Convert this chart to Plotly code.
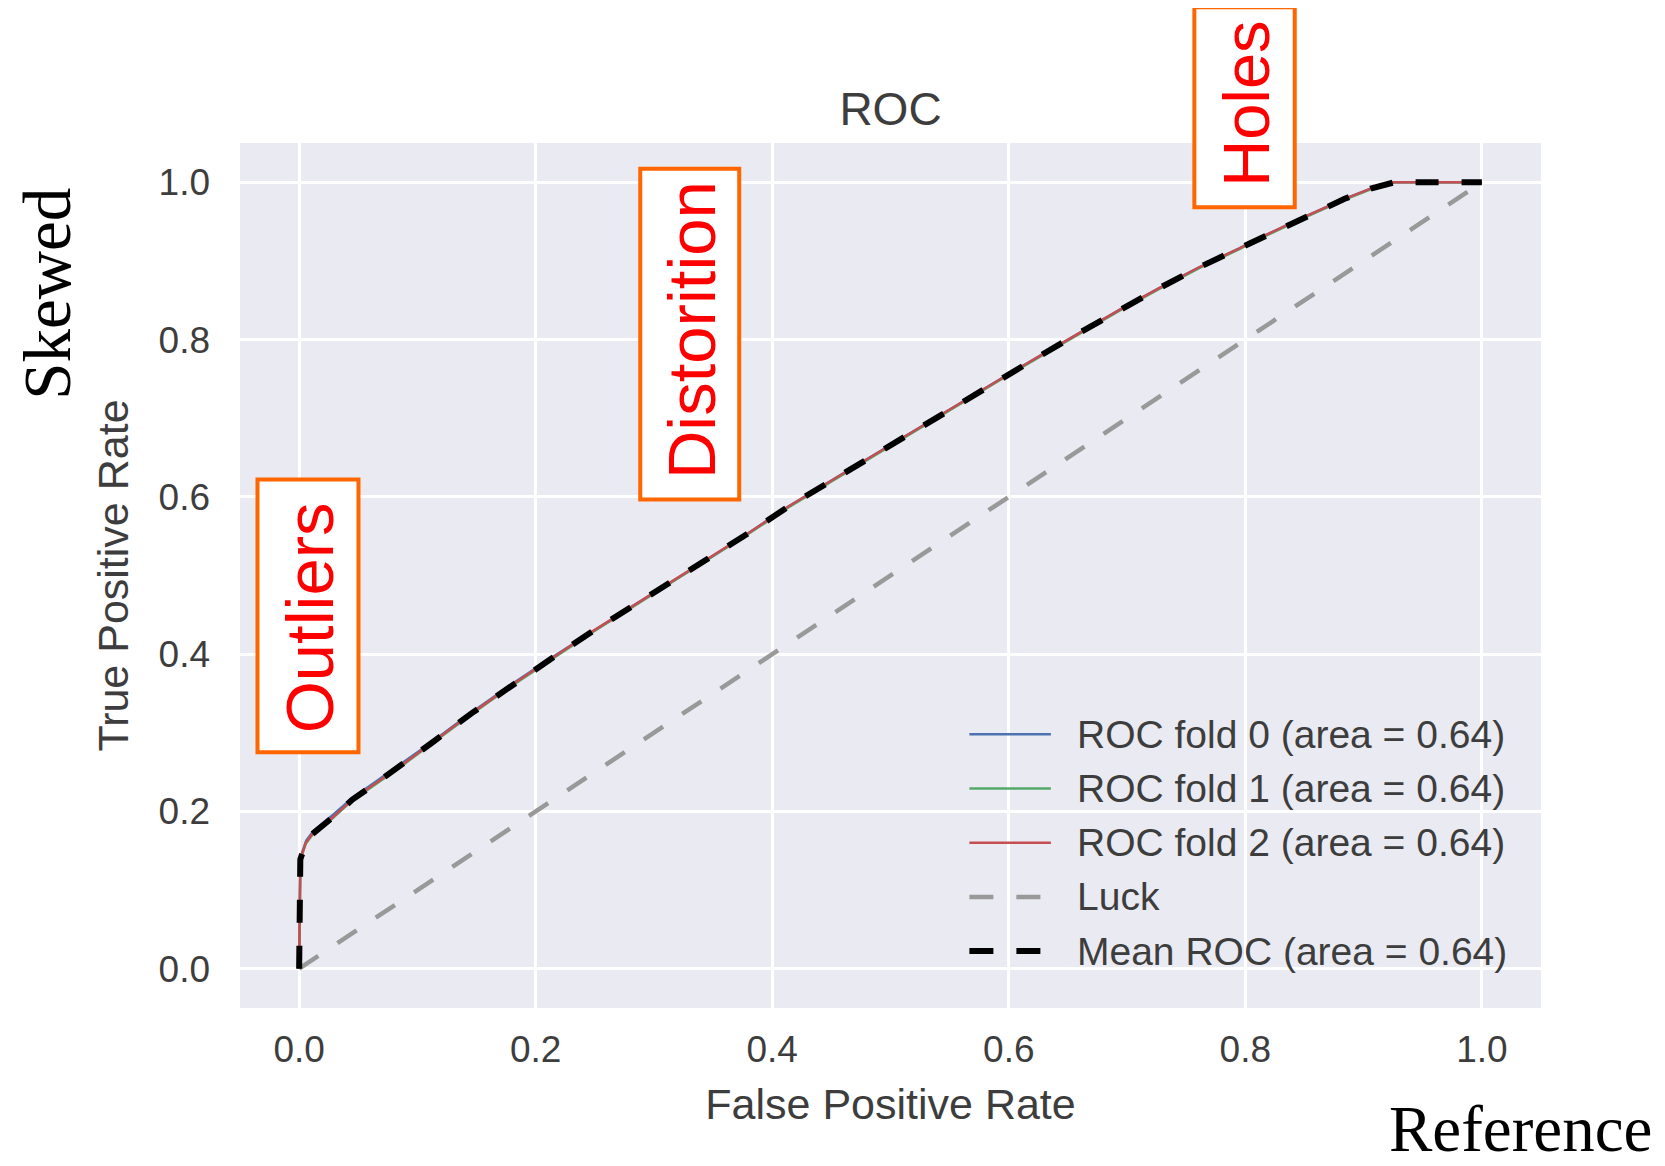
import plotly.graph_objects as go

# ---------------- data ----------------
mean_fpr = [0.0, 0.001, 0.0056, 0.011, 0.028, 0.045, 0.065, 0.085, 0.112, 0.146,
            0.180, 0.214, 0.248, 0.282, 0.316, 0.347, 0.380, 0.414, 0.457, 0.491,
            0.525, 0.558, 0.592, 0.626, 0.660, 0.694, 0.728, 0.761, 0.795, 0.813,
            0.850, 0.884, 0.906, 0.926, 0.940, 1.0]
mean_tpr = [0.0, 0.139, 0.160, 0.171, 0.192, 0.215, 0.236, 0.257, 0.287, 0.325,
            0.361, 0.395, 0.429, 0.461, 0.493, 0.522, 0.554, 0.588, 0.627, 0.658,
            0.689, 0.719, 0.749, 0.779, 0.809, 0.838, 0.866, 0.892, 0.916, 0.930,
            0.956, 0.979, 0.992, 1.0, 1.0, 1.0]

fold0_fpr = [0.0, 0.001, 0.006, 0.012, 0.028, 0.045, 0.065, 0.085, 0.112, 0.146,
             0.180, 0.214, 0.248, 0.282, 0.316, 0.347, 0.380, 0.414, 0.457, 0.491,
             0.525, 0.558, 0.592, 0.626, 0.660, 0.694, 0.728, 0.761, 0.795, 0.813,
             0.850, 0.884, 0.906, 0.926, 0.940, 1.0]
fold0_tpr = [0.0, 0.141, 0.163, 0.175, 0.195, 0.217, 0.238, 0.259, 0.288, 0.326,
             0.362, 0.396, 0.429, 0.461, 0.493, 0.522, 0.554, 0.588, 0.627, 0.658,
             0.689, 0.719, 0.749, 0.779, 0.809, 0.838, 0.866, 0.892, 0.916, 0.930,
             0.956, 0.979, 0.992, 1.0, 1.0, 1.0]

fold1_fpr = [0.0, 0.001, 0.0056, 0.011, 0.028, 0.045, 0.065, 0.085, 0.112, 0.146,
             0.180, 0.214, 0.248, 0.282, 0.316, 0.347, 0.380, 0.414, 0.457, 0.491,
             0.525, 0.558, 0.592, 0.626, 0.660, 0.694, 0.728, 0.761, 0.795, 0.813,
             0.850, 0.884, 0.906, 0.926, 0.940, 1.0]
fold1_tpr = [0.0, 0.138, 0.159, 0.170, 0.191, 0.214, 0.235, 0.256, 0.286, 0.324,
             0.360, 0.394, 0.428, 0.460, 0.492, 0.521, 0.553, 0.587, 0.626, 0.657,
             0.688, 0.718, 0.748, 0.778, 0.808, 0.837, 0.865, 0.891, 0.915, 0.929,
             0.955, 0.978, 0.991, 1.0, 1.0, 1.0]

fold2_fpr = [0.0, 0.001, 0.0056, 0.011, 0.028, 0.045, 0.065, 0.085, 0.112, 0.146,
             0.180, 0.214, 0.248, 0.282, 0.316, 0.347, 0.380, 0.414, 0.457, 0.491,
             0.525, 0.558, 0.592, 0.626, 0.660, 0.694, 0.728, 0.761, 0.795, 0.813,
             0.850, 0.884, 0.906, 0.926, 0.940, 1.0]
fold2_tpr = [0.0, 0.139, 0.160, 0.171, 0.192, 0.215, 0.236, 0.257, 0.287, 0.325,
             0.361, 0.395, 0.429, 0.461, 0.493, 0.522, 0.554, 0.588, 0.627, 0.658,
             0.689, 0.719, 0.749, 0.779, 0.809, 0.838, 0.866, 0.892, 0.916, 0.930,
             0.956, 0.979, 0.992, 1.0, 1.0, 1.0]

luck_x = [0.0, 1.0]
luck_y = [0.0, 1.0]

fold_aucs = [0.64, 0.64, 0.64]
mean_auc = 0.64

tick_vals = [0.0, 0.2, 0.4, 0.6, 0.8, 1.0]
tick_text = ["0.0", "0.2", "0.4", "0.6", "0.8", "1.0"]

callouts = ["Outliers", "Distorition", "Holes"]

# ---------------- layout geometry (page pixels; the page body has an 8px margin) ----------------
OFF = 8
W, H = 1665 - 2 * OFF, 1166 - OFF
PL, PR, PT, PB = 239.5, 1540.7, 142.7, 1007.7     # plot area in page px
L, R, T, B = PL - OFF, PR - OFF, PT - OFF, PB - OFF
PW, PH = R - L, B - T

def px_x(X):            # page px -> paper x
    return (X - OFF - L) / PW

def px_y(Y):            # page px -> paper y
    return (B - (Y - OFF)) / PH

SANS = "Liberation Sans, Arial, Helvetica, sans-serif"
SERIF = "Liberation Serif, Times New Roman, serif"
TXT = "#3d3d3d"
BLUE, GREEN, RED = "#4C72B0", "#55A868", "#C44E52"
LUCK = "#999999"
ORANGE = "#FF6600"

fig = go.Figure()

fold_sets = [(fold0_fpr, fold0_tpr, BLUE), (fold1_fpr, fold1_tpr, GREEN), (fold2_fpr, fold2_tpr, RED)]
for i, (fx, fy, col) in enumerate(fold_sets):
    fig.add_trace(go.Scatter(x=fx, y=fy, mode="lines", line=dict(color=col, width=2.5),
                             name=f"ROC fold {i} (area = {fold_aucs[i]:.2f})", showlegend=False,
                             hoverinfo="skip"))

fig.add_trace(go.Scatter(x=luck_x, y=luck_y, mode="lines",
                         line=dict(color=LUCK, width=4.5, dash="23px,23px"),
                         name="Luck", showlegend=False, hoverinfo="skip"))
fig.add_trace(go.Scatter(x=mean_fpr, y=mean_tpr, mode="lines",
                         line=dict(color="black", width=6, dash="23px,23px"),
                         name=f"Mean ROC (area = {mean_auc:.2f})", showlegend=False,
                         hoverinfo="skip"))

# ---------------- legend drawn matplotlib-style (frameless, long line keys) ----------------
legend_items = [
    (f"ROC fold 0 (area = {fold_aucs[0]:.2f})", BLUE, 2.5, "solid"),
    (f"ROC fold 1 (area = {fold_aucs[1]:.2f})", GREEN, 2.5, "solid"),
    (f"ROC fold 2 (area = {fold_aucs[2]:.2f})", RED, 2.5, "solid"),
    ("Luck", LUCK, 4.5, "24px,23px"),
    (f"Mean ROC (area = {mean_auc:.2f})", "black", 6, "24px,23px"),
]
leg_y0 = 734.0
leg_dy = 54.2
shapes = []
annotations = []
for k, (label, col, lw, dash) in enumerate(legend_items):
    yy = px_y(leg_y0 + k * leg_dy)
    shapes.append(dict(type="line", xref="paper", yref="paper",
                       x0=px_x(969.0), x1=px_x(1050.5), y0=yy, y1=yy,
                       line=dict(color=col, width=lw, dash=dash)))
    annotations.append(dict(text=label, xref="paper", yref="paper",
                            x=px_x(1075), y=yy, xanchor="left", yanchor="middle",
                            showarrow=False, font=dict(family=SANS, size=39, color=TXT)))

# ---------------- call-out boxes ----------------
boxes = [(255, 360, 477.3, 754.0), (637.8, 740.8, 166.5, 501.3), (1192.0, 1296.4, 5.0, 209.0)]
text_centers = [(309.0, 617.5), (691.3, 330.0), (1246.5, 103.5)]
text_sizes = [67, 67, 65]
BW = 4
for text, (x0, x1, y0, y1), (cx, cy), fs in zip(callouts, boxes, text_centers, text_sizes):
    shapes.append(dict(type="rect", xref="paper", yref="paper", layer="above",
                       x0=px_x(x0 + BW / 2), x1=px_x(x1 - BW / 2),
                       y0=px_y(y1 - BW / 2), y1=px_y(y0 + BW / 2),
                       fillcolor="white", line=dict(color=ORANGE, width=BW)))
    annotations.append(dict(text=text, xref="paper", yref="paper",
                            x=px_x(cx), y=px_y(cy), xanchor="center", yanchor="middle",
                            textangle=-90, showarrow=False,
                            font=dict(family=SANS, size=fs, color="#FF0000")))

# side labels (kept fully inside the figure)
annotations.append(dict(text="Skewed", xref="paper", yref="paper",
                        x=px_x(OFF + 1), y=px_y(294), xanchor="left", yanchor="middle",
                        textangle=-90, showarrow=False, borderpad=0,
                        font=dict(family=SERIF, size=67, color="black")))
annotations.append(dict(text="Reference", xref="paper", yref="paper",
                        x=px_x(1520), y=px_y(1166), xanchor="center", yanchor="bottom",
                        showarrow=False, borderpad=0,
                        font=dict(family=SERIF, size=65, color="black")))

fig.update_layout(
    width=W, height=H,
    margin=dict(l=L, r=W - R, t=T, b=H - B, pad=0),
    paper_bgcolor="white",
    plot_bgcolor="#EAEAF2",
    showlegend=False,
    title=dict(text="ROC", xref="paper", x=0.5, xanchor="center",
               yref="container", y=1 - (109 - OFF) / H, yanchor="middle",
               font=dict(family=SANS, size=46, color=TXT)),
    shapes=shapes,
    annotations=annotations,
)

axis_common = dict(range=[-0.05, 1.05], tickvals=tick_vals, ticktext=tick_text,
                   showgrid=True, gridcolor="white", gridwidth=3, zeroline=False,
                   showline=False, ticks="", tickfont=dict(family=SANS, size=37, color=TXT),
                   fixedrange=True)

fig.update_xaxes(**axis_common, ticklabelstandoff=16,
                 title=dict(text="False Positive Rate", standoff=19,
                            font=dict(family=SANS, size=43, color=TXT)))
fig.update_yaxes(**axis_common, ticklabelstandoff=29,
                 title=dict(text="True Positive Rate", standoff=16,
                            font=dict(family=SANS, size=43, color=TXT)))

fig.write_html("out.html")
